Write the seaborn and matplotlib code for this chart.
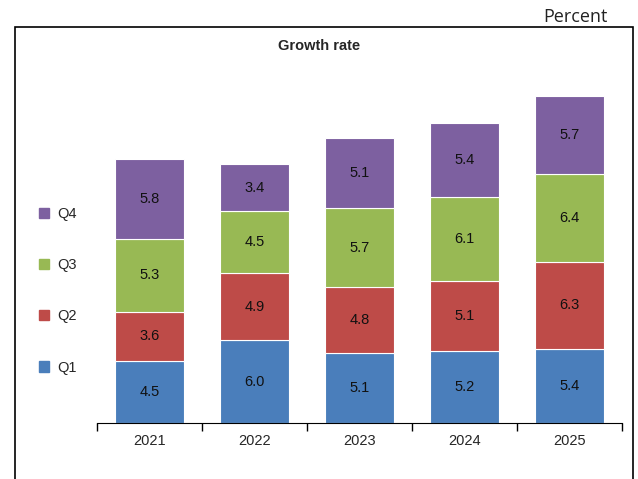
import matplotlib
matplotlib.use("Agg")
import matplotlib.pyplot as plt
import seaborn as sns
import numpy as np
import pandas as pd
from matplotlib.patches import Rectangle, Patch

years = ["2021", "2022", "2023", "2024", "2025"]
q1 = [4.5, 6.0, 5.1, 5.2, 5.4]
q2 = [3.6, 4.9, 4.8, 5.1, 6.3]
q3 = [5.3, 4.5, 5.7, 6.1, 6.4]
q4 = [5.8, 3.4, 5.1, 5.4, 5.7]
series = ["Q1", "Q2", "Q3", "Q4"]
colors = ["#4A7EBB", "#BE4B48", "#98B954", "#7D60A0"]

sns.set_style("white")
plt.rcParams["font.family"] = ["Liberation Sans", "DejaVu Sans"]
fig = plt.figure(figsize=(6.38, 4.79), dpi=100)
ax = fig.add_axes([0.152, 0.117, 0.823, 0.718])

bottom = np.zeros(len(years))
for name, vals, c in zip(series, [q1, q2, q3, q4], colors):
    df = pd.DataFrame({"year": years, "v": vals})
    sns.barplot(data=df, x="year", y="v", color=c, bottom=bottom, width=0.66,
                edgecolor="white", linewidth=0.8, saturation=1, ax=ax)
    for i, v in enumerate(vals):
        ax.text(i, bottom[i] + v / 2, f"{v:.1f}", ha="center", va="center", fontsize=10.5, color="#111111")
    bottom = bottom + np.array(vals)

ax.set_ylim(0, 25)
ax.set_xlim(-0.5, 4.5)
ax.set_xlabel(""); ax.set_ylabel("")
ax.set_yticks([])
for s in ["left", "right", "top"]:
    ax.spines[s].set_visible(False)
ax.spines["bottom"].set_color("black")
ax.set_xticks(np.arange(-0.5, 5, 1), minor=True)
ax.tick_params(axis="x", which="minor", bottom=True, length=6, width=1, color="black", direction="out")
ax.tick_params(axis="x", which="major", bottom=False, length=0, labelsize=10.5, pad=8)

handles = [Patch(color=c, label=n) for n, c in zip(series, colors)][::-1]
fig.legend(handles=handles, loc="upper left", bbox_to_anchor=(0.04, 0.595), frameon=False,
           fontsize=10.5, labelspacing=2.55, handlelength=0.7, handleheight=0.7, handletextpad=0.6)

fig.text(0.5, 0.905, "Growth rate", ha="center", va="center", fontsize=10.5, fontweight="bold")
fig.text(0.953, 0.965, "Percent", ha="right", va="center", fontsize=13, family=["Open Sans", "DejaVu Sans"], color="#222222")
fig.patches.append(Rectangle((0.024, -0.1), 0.968, 1.044, transform=fig.transFigure,
                             fill=False, edgecolor="black", linewidth=1.2))
fig.savefig("out.png", dpi=100)
